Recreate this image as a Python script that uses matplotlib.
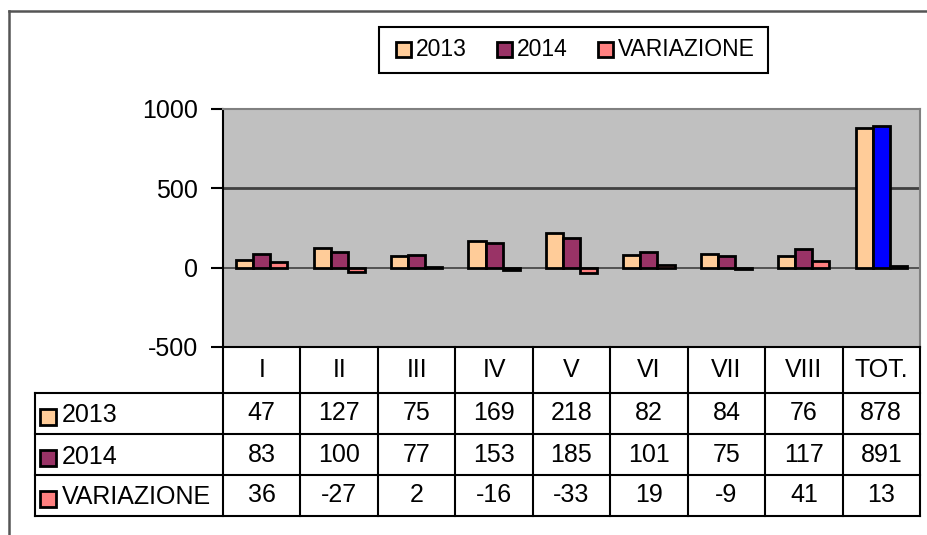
import matplotlib
matplotlib.use("Agg")
import matplotlib.pyplot as plt
from matplotlib.lines import Line2D
from matplotlib.patches import Rectangle
from matplotlib.transforms import blended_transform_factory
import numpy as np

plt.rcParams['font.family'] = ['Liberation Sans', 'DejaVu Sans']

categories = ["I", "II", "III", "IV", "V", "VI", "VII", "VIII", "TOT."]
series_names = ["2013", "2014", "VARIAZIONE"]
v2013 = [47, 127, 75, 169, 218, 82, 84, 76, 878]
v2014 = [83, 100, 77, 153, 185, 101, 75, 117, 891]
variazione = [36, -27, 2, -16, -33, 19, -9, 41, 13]
yticks = [-500, 0, 500, 1000]

c2013 = "#FFCC99"
c2014 = "#993366"
cvar = "#FF8080"
ctot2014 = "#0000FF"

W, H = 928, 535
fig = plt.figure(figsize=(W / 100, H / 100), dpi=100)
fig.patch.set_facecolor("white")

FS = 18

def fx(x):
    return x / W

def fy(y):
    return 1 - y / H

# outer frame (left and top edges visible)
fig.add_artist(Line2D([fx(9), fx(9)], [fy(11), fy(540)], color="#555555", lw=1.8, transform=fig.transFigure))
fig.add_artist(Line2D([fx(9), fx(930)], [fy(11), fy(11)], color="#555555", lw=1.8, transform=fig.transFigure))

# plot area
L, R, T, B = 223, 920, 109, 347
ax = fig.add_axes([fx(L), fy(B), fx(R - L), (B - T) / H])
ax.set_facecolor("#C0C0C0")
n = len(categories)
x = np.arange(n)
ax.set_xlim(-0.5, n - 0.5)
ax.set_ylim(-500, 1000)

bw = 0.22
cols2014 = [c2014] * (n - 1) + [ctot2014]
ax.bar(x - bw, v2013, width=bw, color=c2013, edgecolor="black", linewidth=2, zorder=3)
ax.bar(x, v2014, width=bw, color=cols2014, edgecolor="black", linewidth=2, zorder=3)
ax.bar(x + bw, variazione, width=bw, color=cvar, edgecolor="black", linewidth=2, zorder=3)

ax.set_yticks(yticks)
ax.set_yticklabels([str(v) for v in yticks], fontsize=FS)
ax.tick_params(axis="y", direction="out", length=9, width=1.5, pad=9, colors="black")
ax.set_xticks([])
for v in yticks:
    if v == 0:
        ax.axhline(v, color="#404040", lw=1.2, zorder=2)
    elif -500 < v < 1000:
        ax.axhline(v, color="#404040", lw=2, zorder=2)
for s in ["top", "right"]:
    ax.spines[s].set_color("#808080")
    ax.spines[s].set_linewidth(1.5)
ax.spines["left"].set_color("black")
ax.spines["left"].set_linewidth(1.5)
ax.spines["bottom"].set_color("black")
ax.spines["bottom"].set_linewidth(1.5)

# table below, columns tied to category positions
tr = blended_transform_factory(ax.transData, fig.transFigure)
tf = fig.transFigure
row_tops = [347, 393, 434, 475, 516]
lw_t = 1.5
for i in range(n + 1):
    xb = i - 0.5
    fig.add_artist(Line2D([xb, xb], [fy(row_tops[0]), fy(row_tops[-1])], color="black", lw=lw_t, transform=tr))
tab_left = 35
fig.add_artist(Line2D([fx(tab_left), fx(tab_left)], [fy(row_tops[1]), fy(row_tops[-1])], color="black", lw=lw_t, transform=tf))
for yy in row_tops[1:]:
    fig.add_artist(Line2D([fx(tab_left), fx(R)], [fy(yy), fy(yy)], color="black", lw=lw_t, transform=tf))

hy = (row_tops[0] + row_tops[1]) / 2
for i, c in enumerate(categories):
    fig.text(i, fy(hy), c, transform=tr, ha="center", va="center", fontsize=FS)

series = [v2013, v2014, variazione]
colors = [c2013, c2014, cvar]
for r, (name, vals, col) in enumerate(zip(series_names, series, colors)):
    yc = (row_tops[r + 1] + row_tops[r + 2]) / 2
    sq = 16
    fig.add_artist(Rectangle((fx(40), fy(yc + sq / 2 + 3)), sq / W, sq / H, facecolor=col,
                             edgecolor="black", lw=2, transform=tf))
    fig.text(fx(62), fy(yc + 2), name, ha="left", va="center", fontsize=FS)
    for i, v in enumerate(vals):
        fig.text(i, fy(yc), str(v), transform=tr, ha="center", va="center", fontsize=FS)

# legend box
fig.add_artist(Rectangle((fx(379), fy(73)), (768 - 379) / W, (73 - 27) / H, facecolor="white",
                         edgecolor="black", lw=1.5, transform=tf))
leg_sq_x = [396, 497, 598]
for sx, name, col in zip(leg_sq_x, series_names, colors):
    fig.add_artist(Rectangle((fx(sx), fy(57)), 15 / W, 15 / H, facecolor=col,
                             edgecolor="black", lw=2, transform=tf))
    fig.text(fx(sx + 20), fy(50), name, ha="left", va="center", fontsize=16.5)

fig.savefig("out.png", dpi=100)
